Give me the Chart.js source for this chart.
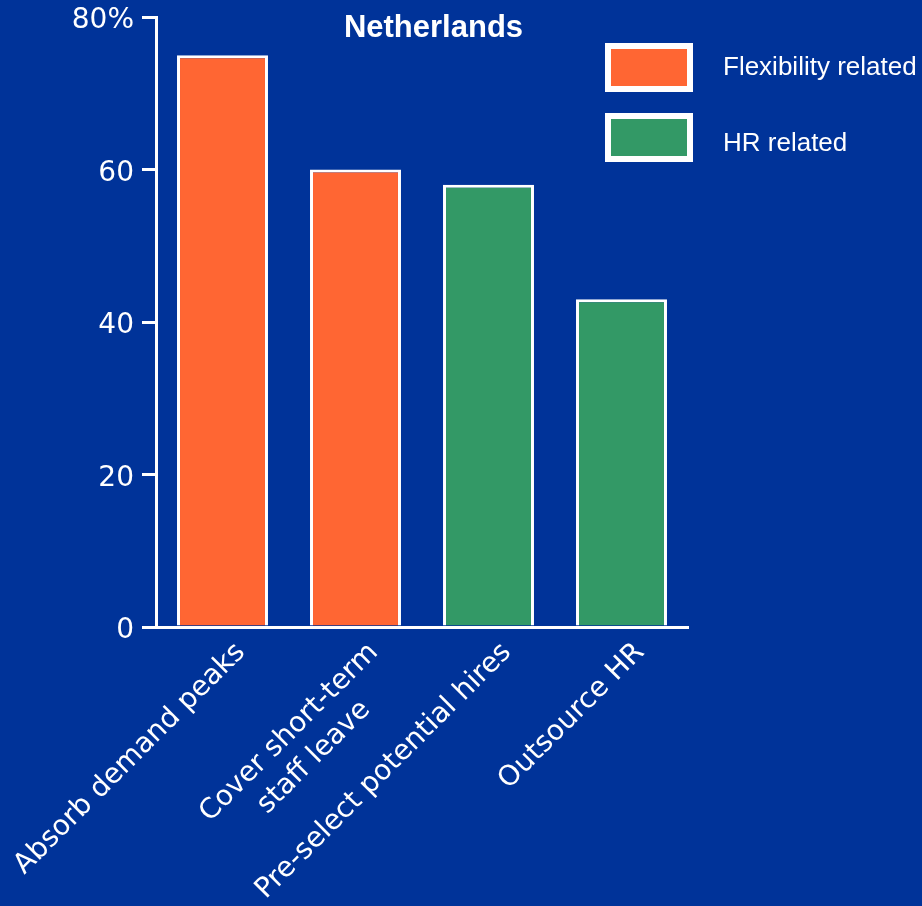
<!DOCTYPE html>
<html><head><meta charset="utf-8">
<style>html,body{margin:0;padding:0;background:#003399;}canvas{display:block;}</style>
<script src="https://cdn.jsdelivr.net/npm/chart.js@4"></script>
</head><body>
<canvas id="c" width="922" height="906"></canvas>
<script>
const chartTitle = 'Netherlands';
const categories = [['Absorb demand peaks'], ['Cover short-term', 'staff leave'], ['Pre-select potential hires'], ['Outsource HR']];
const seriesNames = ['Flexibility related', 'HR related'];
const seriesColors = ['#FF6633', '#339966'];
const flexibilityValues = [75, 60, null, null];
const hrValues = [null, null, 58, 43];
const yTickValues = [0, 20, 40, 60, 80];
const yTickLabels = ['0', '20', '40', '60', '80%'];

const WHITE = '#FFFFFF';
const TICK_FONT = '28px "DejaVu Sans"';

const overlay = {
  id: 'overlay',
  afterDraw(chart) {
    const ctx = chart.ctx;
    const area = chart.chartArea;
    const xs = chart.scales.x;
    ctx.save();
    // title
    ctx.fillStyle = WHITE;
    ctx.font = 'bold 31px "Liberation Sans", Arial, sans-serif';
    ctx.textAlign = 'center';
    ctx.textBaseline = 'alphabetic';
    ctx.fillText(chartTitle, 433.5, 37);
    // legend
    chart.data.datasets.forEach((ds, i) => {
      const bx = area.right - 83, by = 43 + i * 70;
      ctx.fillStyle = WHITE;
      ctx.fillRect(bx, by, 88, 49);
      ctx.fillStyle = ds.backgroundColor;
      ctx.fillRect(bx + 6, by + 6, 76, 37);
      ctx.fillStyle = WHITE;
      ctx.font = '26px "Liberation Sans", Arial, sans-serif';
      ctx.textAlign = 'left';
      ctx.textBaseline = 'middle';
      ctx.fillText(ds.label, bx + 118, 68 + i * 76);
    });
    // rotated category labels
    ctx.font = TICK_FONT;
    ctx.fillStyle = WHITE;
    ctx.textBaseline = 'middle';
    ctx.textAlign = 'right';
    categories.forEach((lines, i) => {
      const px = xs.getPixelForTick(i);
      const widths = lines.map(l => ctx.measureText(l).width);
      const maxW = Math.max(...widths);
      ctx.save();
      ctx.translate(px + 18.5, area.bottom + 21);
      ctx.rotate(-Math.PI / 4);
      lines.forEach((l, j) => {
        ctx.fillText(l, -(maxW - widths[j]) / 2, j * 35);
      });
      ctx.restore();
    });
    ctx.restore();
  }
};

new Chart(document.getElementById('c'), {
  type: 'bar',
  data: {
    labels: categories,
    datasets: [
      { label: seriesNames[0], data: flexibilityValues, backgroundColor: seriesColors[0] },
      { label: seriesNames[1], data: hrValues, backgroundColor: seriesColors[1] }
    ]
  },
  options: {
    responsive: false,
    animation: false,
    devicePixelRatio: 1,
    layout: { padding: { top: 17, right: 234, left: 0, bottom: 0 } },
    datasets: {
      bar: {
        grouped: false,
        barPercentage: 0.684,
        categoryPercentage: 1,
        borderColor: WHITE,
        borderWidth: 3,
        borderSkipped: 'start'
      }
    },
    plugins: {
      legend: { display: false },
      title: { display: false },
      tooltip: { enabled: false }
    },
    scales: {
      x: {
        z: 1,
        grid: { display: false },
        border: { display: true, color: WHITE, width: 3 },
        ticks: { display: false },
        afterFit(scale) { scale.height = 279; scale.paddingLeft = 0; scale.paddingRight = 0; }
      },
      y: {
        min: 0,
        max: 80,
        afterBuildTicks(scale) { scale.ticks = yTickValues.map(v => ({ value: v })); },
        grid: { display: true, drawOnChartArea: false, drawTicks: true, tickLength: 14, color: WHITE, lineWidth: 3 },
        border: { display: true, color: WHITE, width: 3 },
        ticks: {
          color: WHITE,
          padding: 8,
          labelOffset: 4,
          font: { family: 'DejaVu Sans', size: 28 },
          callback(value) { const k = yTickValues.indexOf(value); return k >= 0 ? yTickLabels[k] : ''; }
        },
        afterFit(scale) { scale.width = 156; scale.paddingTop = 0; scale.paddingBottom = 0; }
      }
    }
  },
  plugins: [overlay]
});
</script>
</body></html>
